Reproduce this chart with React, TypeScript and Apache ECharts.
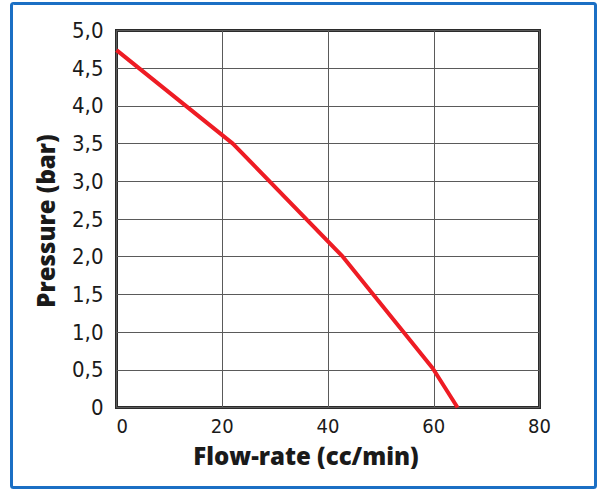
import React, { useEffect, useRef } from "react";
import * as echarts from "echarts";

const flowRate = [0, 22, 42.8, 59.8, 64.5];
const pressure = [4.74, 3.5, 2.0, 0.52, 0];
const yTickLabels = ["0", "0,5", "1,0", "1,5", "2,0", "2,5", "3,0", "3,5", "4,0", "4,5", "5,0"];
const xTickLabels = ["0", "20", "40", "60", "80"];
const xTitle = "Flow-rate (cc/min)";
const yTitle = "Pressure (bar)";

const labelFont = "'Liberation Sans Narrow', 'DejaVu Sans Condensed', 'Roboto', sans-serif";
const titleFont = "'Open Sans', 'DejaVu Sans', sans-serif";

export default function App() {
  const ref = useRef<HTMLDivElement>(null);
  useEffect(() => {
    document.body.style.margin = "0";
    const chart = echarts.init(ref.current!, null, { renderer: "svg" });
    chart.setOption({
      animation: false,
      backgroundColor: "#ffffff",
      grid: {
        left: 116.5,
        top: 30.5,
        width: 423,
        height: 377,
        show: true,
        borderColor: "#2b2b2b",
        borderWidth: 3,
        containLabel: false,
      },
      xAxis: {
        type: "value",
        min: 0,
        max: 80,
        interval: 20,
        axisLine: { show: false },
        axisTick: { show: false },
        splitLine: { lineStyle: { color: "#5a5a5a", width: 1 } },
        axisLabel: {
          margin: 8,
          fontFamily: labelFont,
          fontSize: 20,
          lineHeight: 20,
          color: "#1a1a1a",
          alignMinLabel: "left",
          formatter: (v: number) => xTickLabels[Math.round(v / 20)],
        },
      },
      yAxis: {
        type: "value",
        min: 0,
        max: 5,
        interval: 0.5,
        axisLine: { show: false },
        axisTick: { show: false },
        splitLine: { lineStyle: { color: "#5a5a5a", width: 1 } },
        axisLabel: {
          margin: 13,
          fontFamily: labelFont,
          fontSize: 22,
          color: "#1a1a1a",
          formatter: (v: number) => yTickLabels[Math.round(v / 0.5)],
        },
      },
      graphic: [
        {
          type: "rect",
          shape: { x: 11.5, y: 3.5, width: 584, height: 484, r: 2 },
          style: { fill: "none", stroke: "#1b6fc4", lineWidth: 3 },
          silent: true,
        },
        {
          type: "text",
          x: 306,
          y: 455,
          style: {
            text: xTitle,
            fontFamily: titleFont,
            fontWeight: 800,
            fontSize: 24,
            lineHeight: 24,
            fill: "#1a1a1a",
            align: "center",
            verticalAlign: "middle",
          },
        },
        {
          type: "text",
          x: 45,
          y: 221,
          rotation: Math.PI / 2,
          style: {
            text: yTitle,
            fontFamily: titleFont,
            fontWeight: 800,
            fontSize: 24,
            fill: "#1a1a1a",
            align: "center",
            verticalAlign: "middle",
          },
        },
      ],
      series: [
        {
          type: "line",
          data: flowRate.map((x, i) => [x, pressure[i]]),
          symbol: "none",
          lineStyle: { color: "#ee1c24", width: 4 },
          z: 5,
        },
      ],
    });
    return () => chart.dispose();
  }, []);
  return <div ref={ref} style={{ position: "absolute", left: 0, top: 0, width: 598, height: 489 }} />;
}
